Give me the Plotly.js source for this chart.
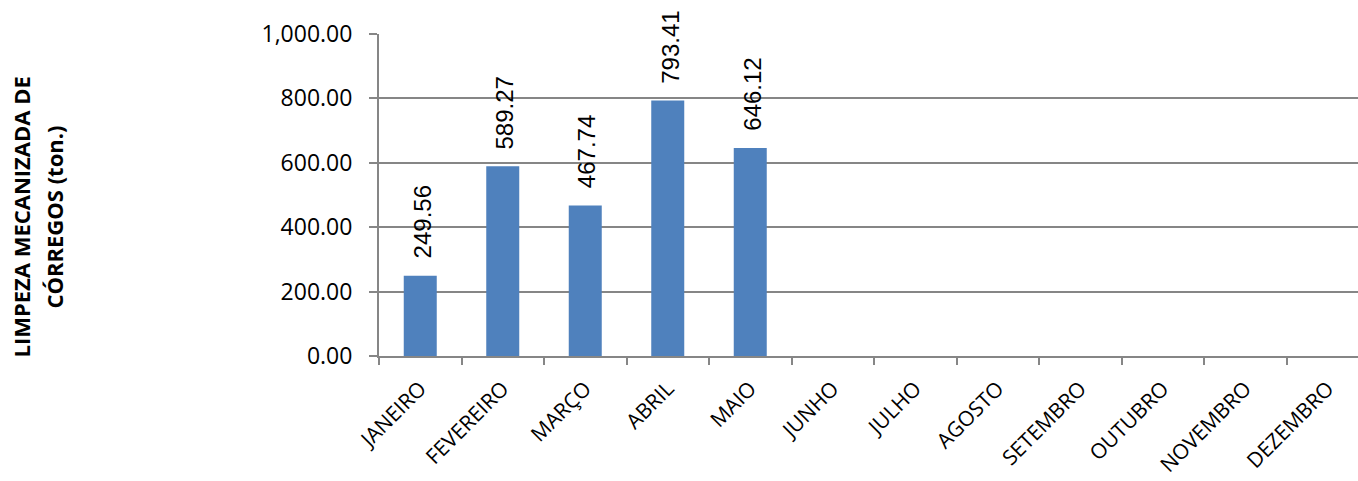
<!DOCTYPE html>
<html>
<head>
<meta charset="utf-8">
<script src="https://cdn.plot.ly/plotly-3.0.1.min.js"></script>
<style>
html,body{margin:0;padding:0;overflow:hidden;background:#fff;}
#chart{width:1380px;height:481px;}
</style>
</head>
<body>
<div id="chart"></div>
<script>
const months = ["JANEIRO","FEVEREIRO","MARÇO","ABRIL","MAIO","JUNHO","JULHO","AGOSTO","SETEMBRO","OUTUBRO","NOVEMBRO","DEZEMBRO"];
const values = [249.56, 589.27, 467.74, 793.41, 646.12, null, null, null, null, null, null, null];
const yTickVals = [0, 200, 400, 600, 800, 1000];
const yTickText = ["0.00","200.00","400.00","600.00","800.00","1,000.00"];
const yTitleLines = ["LIMPEZA MECANIZADA DE", "CÓRREGOS (ton.)"];

const gridColor = "#868686";

const trace = {
  type: "bar",
  x: months,
  y: values,
  marker: {color: "#4F81BD", line: {width: 0}},
  hoverinfo: "none"
};

const labelAnnotations = [];
months.forEach((m, i) => {
  if (values[i] !== null) {
    labelAnnotations.push({
      x: m, y: values[i], xref: "x", yref: "y",
      text: values[i].toFixed(2),
      textangle: -90,
      showarrow: false,
      xanchor: "center", yanchor: "bottom",
      yshift: 15,
      xshift: 2,
      font: {family: "Liberation Sans", size: 24, color: "#000"}
    });
  }
});

const titleAnnotations = yTitleLines.map((t, i) => ({
  text: "<b>" + t + "</b>",
  xref: "paper", yref: "paper",
  x: 0, y: 0.43,
  xanchor: "center", yanchor: "middle",
  xshift: -379 + 21 + i * 33,
  textangle: -90,
  showarrow: false,
  font: {family: "Open Sans", size: 22, color: "#000"}
}));

const layout = {
  width: 1380, height: 481,
  margin: {l: 379, r: 11, t: 34, b: 125},
  paper_bgcolor: "#fff", plot_bgcolor: "#fff",
  showlegend: false,
  bargap: 0.6,
  font: {family: "Open Sans", color: "#000"},
  xaxis: {
    type: "category",
    tickson: "boundaries",
    ticks: "outside", ticklen: 7, tickwidth: 2, tickcolor: gridColor,
    showline: true, linecolor: gridColor, linewidth: 2,
    showgrid: false,
    tickangle: -45,
    tickfont: {family: "Open Sans", size: 21, color: "#000"},
    ticklabelstandoff: 10,
    fixedrange: true
  },
  yaxis: {
    range: [0, 1000],
    tickvals: yTickVals, ticktext: yTickText,
    ticks: "outside", ticklen: 8, tickwidth: 2, tickcolor: gridColor,
    ticklabelstandoff: 12,
    showline: true, linecolor: gridColor, linewidth: 2,
    showgrid: true, gridcolor: gridColor, gridwidth: 2,
    zeroline: false,
    tickfont: {family: "Open Sans", size: 23, color: "#000"},
    fixedrange: true
  },
  annotations: labelAnnotations.concat(titleAnnotations)
};

Plotly.newPlot("chart", [trace], layout, {displayModeBar: false, staticPlot: true});
</script>
</body>
</html>
